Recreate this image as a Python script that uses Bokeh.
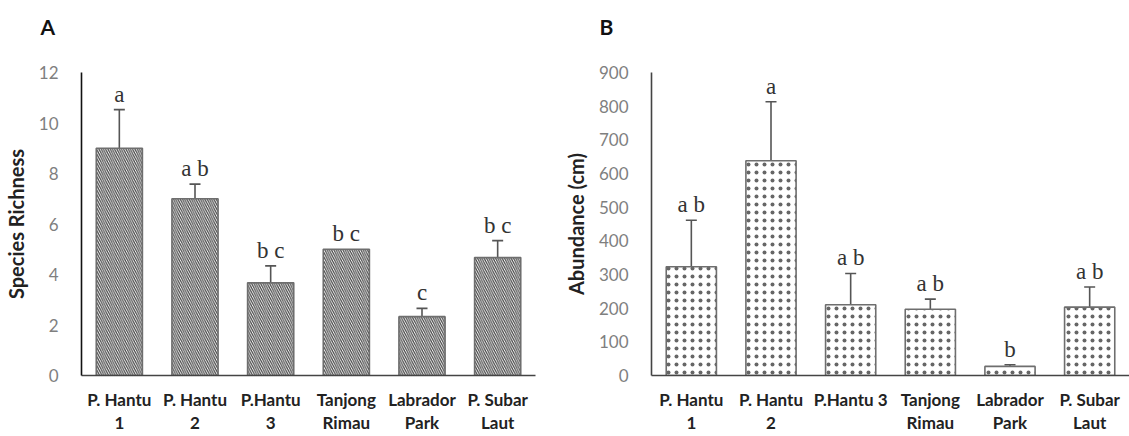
from bokeh.plotting import figure
from bokeh.layouts import row
from bokeh.models import ColumnDataSource, Whisker, TeeHead, FixedTicker
from bokeh.core.properties import value
from bokeh.embed import file_html
from bokeh.resources import INLINE

# ---- data ----
sites_a = ["P. Hantu\n1", "P. Hantu\n2", "P.Hantu\n3", "Tanjong\nRimau", "Labrador\nPark", "P. Subar\nLaut"]
sites_b = ["P. Hantu\n1", "P. Hantu\n2", "P.Hantu 3", "Tanjong\nRimau", "Labrador\nPark", "P. Subar\nLaut"]

richness = [9.0, 7.0, 3.67, 5.0, 2.33, 4.67]
richness_err = [1.53, 0.58, 0.67, 0.0, 0.33, 0.67]
letters_a = ["a", "a b", "b c", "b c", "c", "b c"]

abundance = [323, 638, 210, 197, 27, 203]
abundance_err = [138, 175, 93, 30, 5, 60]
letters_b = ["a b", "a", "a b", "a b", "b", "a b"]

ticks_a = [0, 2, 4, 6, 8, 10, 12]
ticks_b = [0, 100, 200, 300, 400, 500, 600, 700, 800, 900]

TICK_FONT = "Lato"
LETTER_FONT = "Liberation Serif"


def make_panel(title, sites, vals, errs, letters, yticks, ylabel, width, border_left,
               border_right, title_offset, bar_width, hatch, hatch_scale, hatch_weight,
               hatch_color, yaxis_color, label_size):
    xs = list(range(1, len(sites) + 1))
    p = figure(width=width, height=436, output_backend="svg", toolbar_location=None,
               x_range=(0.5, len(sites) + 0.5), y_range=(0, yticks[-1]),
               min_border_left=border_left, min_border_right=border_right,
               min_border_top=72, min_border_bottom=56)
    p.outline_line_color = None
    p.grid.visible = False
    p.background_fill_color = "white"
    p.border_fill_color = "white"

    p.title.text = title
    p.title.text_font = "Lato"
    p.title.text_font_size = "21px"
    p.title.text_font_style = "bold"
    p.title.text_color = "#111111"
    p.title.align = "left"
    p.title.vertical_align = "bottom"
    p.title.offset = title_offset
    p.title.standoff = 18
    p.title.padding = dict(left=0, right=0, top=0, bottom=25)

    src = ColumnDataSource(dict(x=xs, top=vals,
                                upper=[v + e for v, e in zip(vals, errs)],
                                lower=[v - e for v, e in zip(vals, errs)],
                                letter=letters))
    p.vbar(x="x", top="top", width=bar_width, source=src, fill_color="white",
           line_color="#6e6e6e", line_width=1.6,
           hatch_pattern=hatch, hatch_scale=hatch_scale, hatch_weight=hatch_weight,
           hatch_color=hatch_color)

    ex = [x for x, e in zip(xs, errs) if e > 0]
    eu = [v + e for v, e in zip(vals, errs) if e > 0]
    el = [v - e for v, e in zip(vals, errs) if e > 0]
    esrc = ColumnDataSource(dict(x=ex, upper=eu, lower=el))
    w = Whisker(base="x", upper="upper", lower="lower", source=esrc, dimension="height",
                line_color="#555555", line_width=1.6,
                upper_head=TeeHead(size=11, line_color="#555555", line_width=1.6),
                lower_head=TeeHead(size=11, line_color="#555555", line_width=1.6))
    p.add_layout(w)

    p.text(x="x", y="upper", text="letter", source=src, text_align="center",
           text_baseline="bottom", y_offset=-3, text_font=value(LETTER_FONT),
           text_font_size="23px", text_color="#333333")

    p.xaxis.ticker = FixedTicker(ticks=xs)
    p.xaxis.major_label_overrides = {x: s for x, s in zip(xs, sites)}
    p.xaxis.major_label_text_font = TICK_FONT
    p.xaxis.major_label_text_font_style = "bold"
    p.xaxis.major_label_text_font_size = "17px"
    p.xaxis.major_label_text_line_height = 1.12
    p.xaxis.major_label_text_color = "#222222"
    p.xaxis.major_label_standoff = 7
    p.xaxis.major_tick_line_color = None
    p.xaxis.minor_tick_line_color = None
    p.xaxis.axis_line_color = "#444444"
    p.xaxis.axis_line_width = 1.6

    p.yaxis.ticker = FixedTicker(ticks=yticks)
    p.yaxis.major_label_text_font = TICK_FONT
    p.yaxis.major_label_text_font_size = "17px"
    p.yaxis.major_label_text_color = "#7f7f7f"
    p.yaxis.major_label_standoff = 17
    p.yaxis.major_tick_line_color = None
    p.yaxis.minor_tick_line_color = None
    p.yaxis.axis_line_color = yaxis_color
    p.yaxis.axis_line_width = 1.6
    p.yaxis.axis_label = ylabel
    p.yaxis.axis_label_text_font = TICK_FONT
    p.yaxis.axis_label_text_font_style = "bold"
    p.yaxis.axis_label_text_font_size = label_size
    p.yaxis.axis_label_text_color = "#222222"
    p.yaxis.axis_label_standoff = 8
    return p


pa = make_panel("A", sites_a, richness, richness_err, letters_a, ticks_a, "Species Richness",
                width=560, border_left=75, border_right=25, title_offset=-41,
                bar_width=0.61, hatch="\\", hatch_scale=4.5, hatch_weight=1.2,
                hatch_color="#444444", yaxis_color="#111111", label_size="20px")
pb = make_panel("B", sites_b, abundance, abundance_err, letters_b, ticks_b, "Abundance (cm)",
                width=569, border_left=86, border_right=0, title_offset=-52,
                bar_width=0.63, hatch=".", hatch_scale=8, hatch_weight=0.9,
                hatch_color="#666666", yaxis_color="#444444", label_size="20px")

layout = row(pa, pb)
open("out.html", "w").write(file_html(layout, INLINE))
